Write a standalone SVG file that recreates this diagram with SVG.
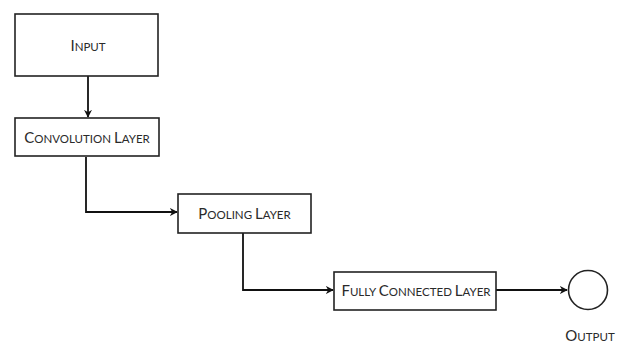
<svg xmlns="http://www.w3.org/2000/svg" width="621" height="343" viewBox="0 0 621 343">
<style>
.box{fill:#fff;stroke:#222;stroke-width:1.6}
.lbl{font-family:Lato,"Open Sans",sans-serif;font-size:11.5px;fill:#2a2a2a;text-anchor:middle}
.cap{font-size:15px}
.con{fill:none;stroke:#111;stroke-width:1.8}
</style>
<defs>
<marker id="ah" viewBox="0 0 10 10" refX="9" refY="5" markerWidth="8" markerHeight="8" orient="auto" markerUnits="userSpaceOnUse">
<path d="M0,0 L10,5 L0,10 L3,5 Z" fill="#111"/>
</marker>
</defs>
<rect width="621" height="343" fill="#fff"/>
<g id="connectors">
<path class="con" d="M88,76 V117" marker-end="url(#ah)"/>
<path class="con" d="M86,157 V212 H177" marker-end="url(#ah)"/>
<path class="con" d="M243,233 V290 H333" marker-end="url(#ah)"/>
<path class="con" d="M496,290 H567" marker-end="url(#ah)"/>
</g>
<g id="input">
<rect class="box" x="15" y="14" width="143" height="62"/>
<text class="lbl" x="88" y="51"><tspan class="cap">I</tspan>NPUT</text>
</g>
<g id="conv">
<rect class="box" x="15" y="118" width="144" height="38"/>
<text class="lbl" x="87" y="143"><tspan class="cap">C</tspan>ONVOLUTION <tspan class="cap">L</tspan>AYER</text>
</g>
<g id="pool">
<rect class="box" x="178" y="194" width="133" height="39"/>
<text class="lbl" x="244.5" y="219"><tspan class="cap">P</tspan>OOLING <tspan class="cap">L</tspan>AYER</text>
</g>
<g id="fc">
<rect class="box" x="334" y="272" width="162" height="38"/>
<text class="lbl" x="416" y="296"><tspan class="cap">F</tspan>ULLY <tspan class="cap">C</tspan>ONNECTED <tspan class="cap">L</tspan>AYER</text>
</g>
<g id="output">
<circle class="box" cx="588" cy="290" r="19.5"/>
<text class="lbl" x="590" y="341"><tspan class="cap">O</tspan>UTPUT</text>
</g>
</svg>
